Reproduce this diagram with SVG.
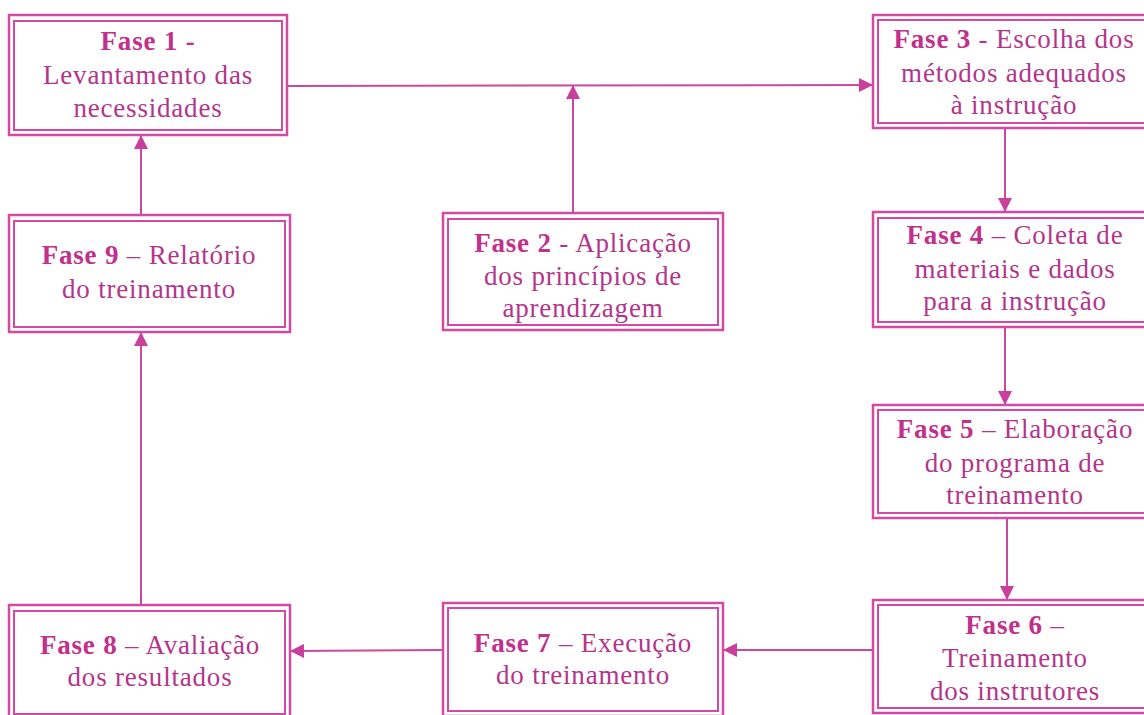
<svg xmlns="http://www.w3.org/2000/svg" width="1144" height="715" viewBox="0 0 1144 715">
<defs>
<style>
.o{fill:none;stroke:#d24aa2;stroke-width:2.5}
.i{fill:none;stroke:#d24aa2;stroke-width:2}
.t{font-family:"Liberation Serif","Times New Roman",serif;font-size:27px;fill:#b3358a;text-anchor:middle;letter-spacing:0.8px}
.b{font-weight:bold;fill:#c0308c}
.c{fill:none;stroke:#c84aa0;stroke-width:2}
</style>
<marker id="ah" viewBox="0 0 14 14" refX="13" refY="7" markerWidth="14" markerHeight="14" markerUnits="userSpaceOnUse" orient="auto">
<path d="M0,0 L14,7 L0,14 Z" fill="#c8409c"/>
</marker>
</defs>
<rect width="1144" height="715" fill="#ffffff"/>
<g id="connectors">
<path class="c" d="M288,86 L872,85" marker-end="url(#ah)"/>
<path class="c" d="M573,213 L573,86" marker-end="url(#ah)"/>
<path class="c" d="M1005,128 L1005,211" marker-end="url(#ah)"/>
<path class="c" d="M1005,327 L1005,404" marker-end="url(#ah)"/>
<path class="c" d="M1007,518 L1007,599" marker-end="url(#ah)"/>
<path class="c" d="M873,650 L724,650" marker-end="url(#ah)"/>
<path class="c" d="M443,650 L291,651" marker-end="url(#ah)"/>
<path class="c" d="M141,605 L141,333" marker-end="url(#ah)"/>
<path class="c" d="M141,215 L141,136" marker-end="url(#ah)"/>
</g>
<g id="fase1">
<rect class="o" x="9" y="15" width="278" height="120"/>
<rect class="i" x="14" y="21" width="268" height="109"/>
<text class="t" x="148" y="50"><tspan class="b">Fase 1 -</tspan></text>
<text class="t" x="148" y="84">Levantamento das</text>
<text class="t" x="148" y="117">necessidades</text>
</g>
<g id="fase2">
<rect class="o" x="443" y="213" width="280" height="117"/>
<rect class="i" x="448" y="219" width="270" height="106"/>
<text class="t" x="583" y="252"><tspan class="b">Fase 2</tspan> - Aplicação</text>
<text class="t" x="583" y="285">dos princípios de</text>
<text class="t" x="583" y="317">aprendizagem</text>
</g>
<g id="fase3">
<rect class="o" x="873" y="15" width="280" height="113"/>
<rect class="i" x="878" y="20" width="270" height="103"/>
<text class="t" x="1014" y="48"><tspan class="b">Fase 3</tspan> - Escolha dos</text>
<text class="t" x="1014" y="82">métodos adequados</text>
<text class="t" x="1014" y="114">à instrução</text>
</g>
<g id="fase4">
<rect class="o" x="873" y="212" width="280" height="115"/>
<rect class="i" x="878" y="218" width="270" height="104"/>
<text class="t" x="1015" y="244"><tspan class="b">Fase 4</tspan> – Coleta de</text>
<text class="t" x="1015" y="278">materiais e dados</text>
<text class="t" x="1015" y="310">para a instrução</text>
</g>
<g id="fase5">
<rect class="o" x="873" y="405" width="280" height="113"/>
<rect class="i" x="878" y="410" width="270" height="103"/>
<text class="t" x="1015" y="438"><tspan class="b">Fase 5</tspan> – Elaboração</text>
<text class="t" x="1015" y="472">do programa de</text>
<text class="t" x="1015" y="504">treinamento</text>
</g>
<g id="fase6">
<rect class="o" x="873" y="600" width="280" height="113"/>
<rect class="i" x="878" y="605" width="270" height="103"/>
<text class="t" x="1015" y="634"><tspan class="b">Fase 6</tspan> –</text>
<text class="t" x="1015" y="667">Treinamento</text>
<text class="t" x="1015" y="700">dos instrutores</text>
</g>
<g id="fase7">
<rect class="o" x="443" y="603" width="280" height="113"/>
<rect class="i" x="448" y="608" width="270" height="103"/>
<text class="t" x="583" y="652"><tspan class="b">Fase 7</tspan> – Execução</text>
<text class="t" x="583" y="684">do treinamento</text>
</g>
<g id="fase8">
<rect class="o" x="9" y="605" width="281" height="113"/>
<rect class="i" x="14" y="611" width="271" height="103"/>
<text class="t" x="150" y="654"><tspan class="b">Fase 8</tspan> – Avaliação</text>
<text class="t" x="150" y="686">dos resultados</text>
</g>
<g id="fase9">
<rect class="o" x="9" y="215" width="281" height="117"/>
<rect class="i" x="14" y="221" width="271" height="106"/>
<text class="t" x="149" y="264"><tspan class="b">Fase 9</tspan> – Relatório</text>
<text class="t" x="149" y="298">do treinamento</text>
</g>
</svg>
